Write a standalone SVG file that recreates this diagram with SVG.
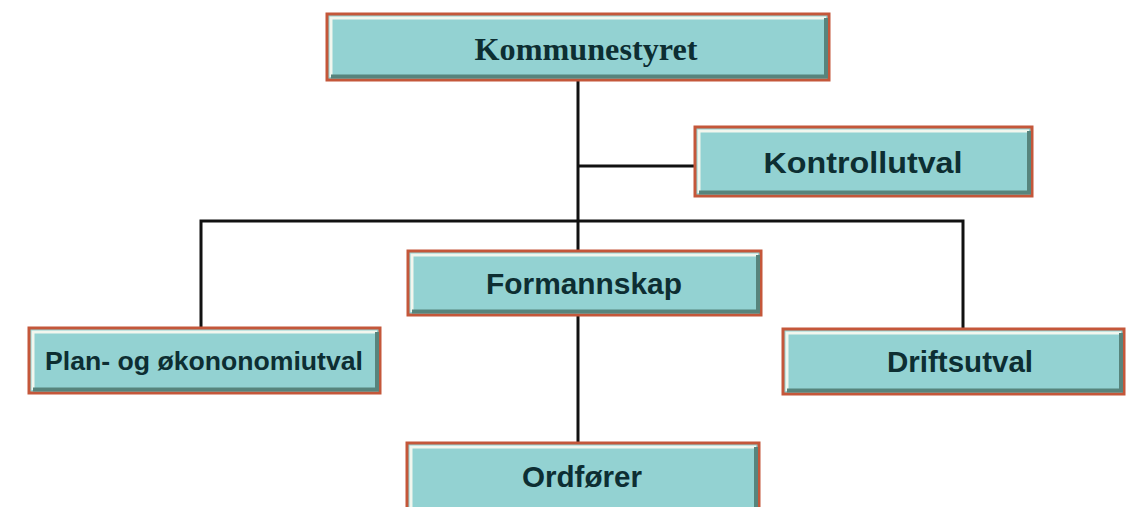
<svg xmlns="http://www.w3.org/2000/svg" width="1126" height="507" viewBox="0 0 1126 507">
<style>
.bg{fill:#ffffff}
.box{fill:#93d2d2;stroke:#c4573a;stroke-width:3}
.hl{fill:none;stroke:#f2f6ee;stroke-width:3}
.sh{fill:none;stroke:#57847c;stroke-width:4}
.ln{fill:none;stroke:#111111;stroke-width:3}
.t{font-family:"Liberation Sans",Arial,sans-serif;font-weight:bold;fill:#0d2e32;text-anchor:middle}
.ts{font-family:"Liberation Serif","Times New Roman",serif;font-weight:bold;fill:#0d2e32;text-anchor:middle}
</style>
<rect class="bg" x="0" y="0" width="1126" height="507"/>
<g id="connectors">
<path class="ln" d="M578 80V250"/>
<path class="ln" d="M577 166H695"/>
<path class="ln" d="M201 327V221H963V329"/>
<path class="ln" d="M578 315V443"/>
</g>
<g id="kommunestyret">
<rect class="box" x="327" y="14" width="502" height="66"/>
<path class="hl" d="M331 77V18H826"/>
<path class="sh" d="M331 76.5H826V18"/>
<text class="ts" x="586" y="60" font-size="32" textLength="223" lengthAdjust="spacingAndGlyphs">Kommunestyret</text>
</g>
<g id="kontrollutval">
<rect class="box" x="695" y="127" width="337" height="69"/>
<path class="hl" d="M699 193V131H1029"/>
<path class="sh" d="M699 192.5H1029V131"/>
<text class="t" x="863" y="173" font-size="30" textLength="199" lengthAdjust="spacingAndGlyphs">Kontrollutval</text>
</g>
<g id="formannskap">
<rect class="box" x="408" y="251" width="353" height="64"/>
<path class="hl" d="M412 312V255H758"/>
<path class="sh" d="M412 311.5H758V255"/>
<text class="t" x="584" y="294" font-size="30" textLength="196" lengthAdjust="spacingAndGlyphs">Formannskap</text>
</g>
<g id="plan">
<rect class="box" x="29" y="328" width="351" height="65"/>
<path class="hl" d="M33 390V332H377"/>
<path class="sh" d="M33 389.5H377V332"/>
<text class="t" x="204" y="370" font-size="26" textLength="318" lengthAdjust="spacingAndGlyphs">Plan- og økononomiutval</text>
</g>
<g id="driftsutval">
<rect class="box" x="783" y="329" width="341" height="65"/>
<path class="hl" d="M787 391V333H1121"/>
<path class="sh" d="M787 390.5H1121V333"/>
<text class="t" x="960" y="372" font-size="30" textLength="146" lengthAdjust="spacingAndGlyphs">Driftsutval</text>
</g>
<g id="ordforer">
<rect class="box" x="407" y="443" width="352" height="66"/>
<path class="hl" d="M411 507V447H756"/>
<path class="sh" d="M756 447V507"/>
<text class="t" x="582" y="487" font-size="30" textLength="120" lengthAdjust="spacingAndGlyphs">Ordfører</text>
</g>
</svg>
